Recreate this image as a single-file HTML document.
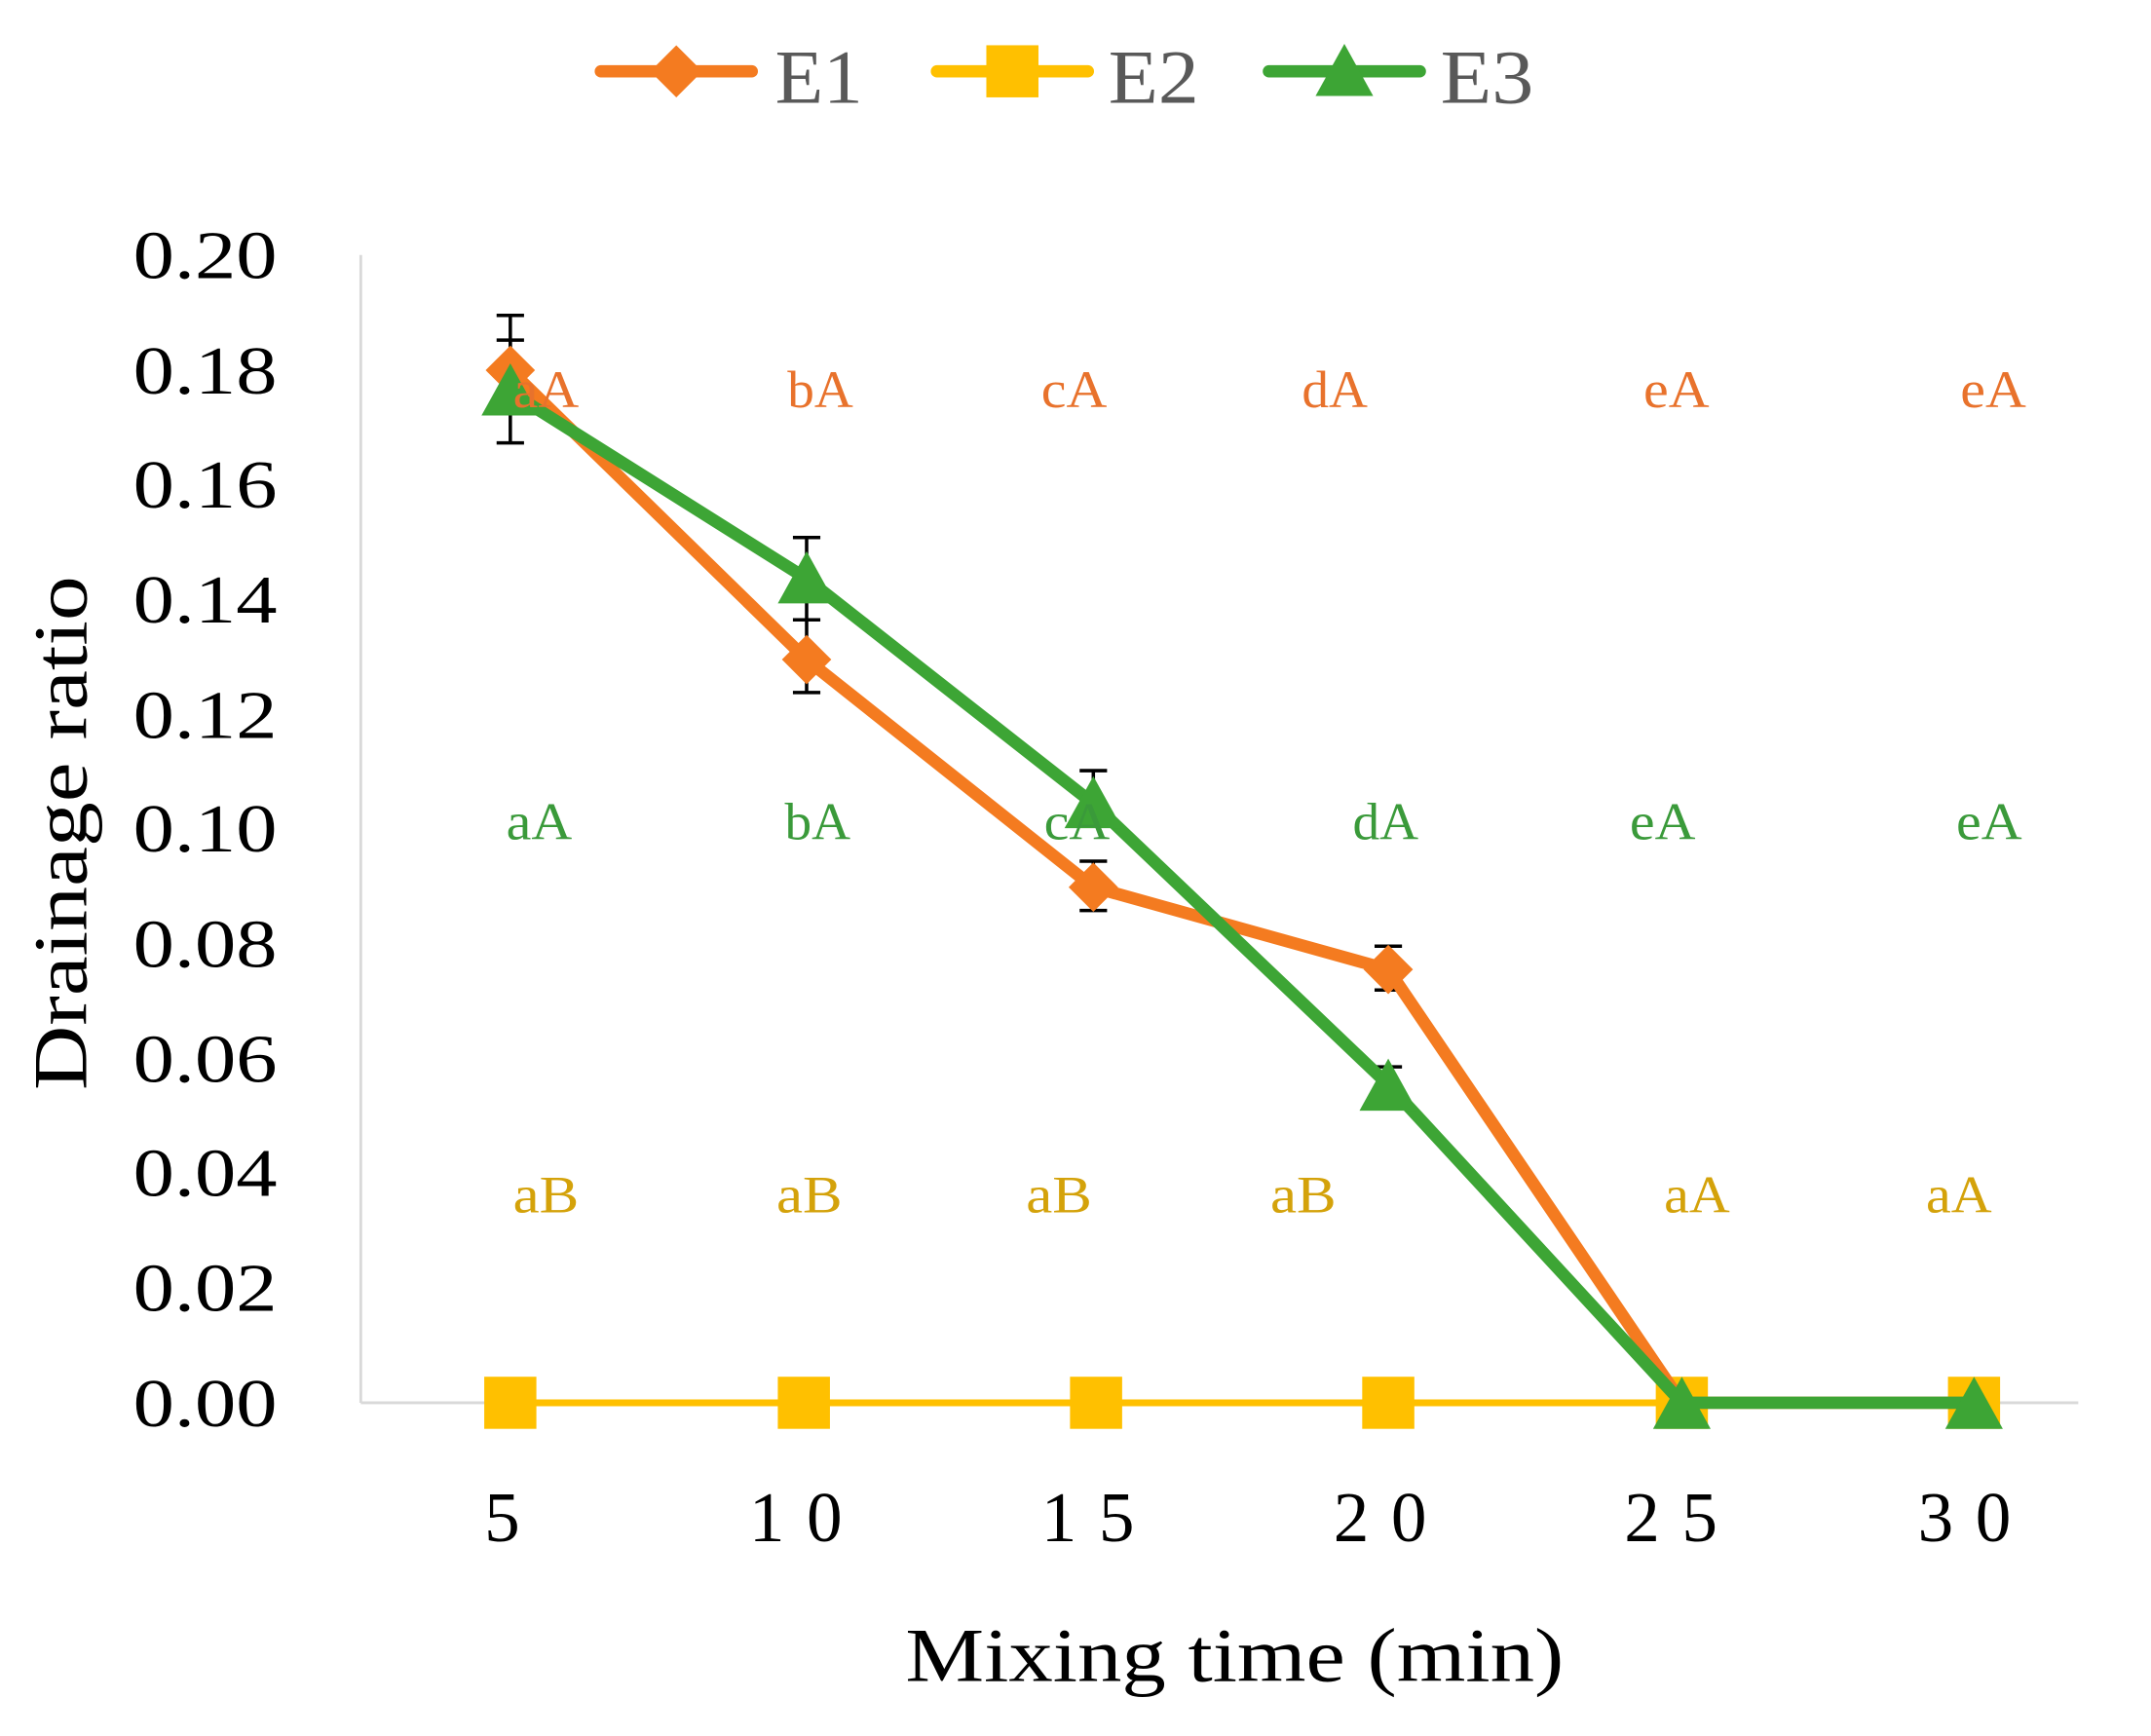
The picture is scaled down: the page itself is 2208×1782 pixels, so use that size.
<!DOCTYPE html>
<html><head><style>html,body{margin:0;padding:0;background:#fff}svg{display:block}</style></head>
<body>
<svg width="2208" height="1782" viewBox="0 0 1568 1266" preserveAspectRatio="none" xmlns="http://www.w3.org/2000/svg" font-family="'Liberation Serif', serif">
<rect width="1568" height="1266" fill="#fff"/>
<!-- legend -->
<line x1="438" y1="52" x2="548" y2="52" stroke="#F47B20" stroke-width="9" stroke-linecap="round"/>
<polygon points="493,33 512,52 493,71 474,52" fill="#F47B20"/>
<text x="565" y="75" font-size="56" fill="#595959" textLength="64" lengthAdjust="spacingAndGlyphs">E1</text>
<line x1="683" y1="52" x2="793" y2="52" stroke="#FFC000" stroke-width="9" stroke-linecap="round"/>
<rect x="719" y="33" width="38" height="38" fill="#FFC000"/>
<text x="808" y="75" font-size="56" fill="#595959" textLength="66" lengthAdjust="spacingAndGlyphs">E2</text>
<line x1="925" y1="52" x2="1035" y2="52" stroke="#3DA535" stroke-width="9" stroke-linecap="round"/>
<polygon points="980,32 1001,70 959,70" fill="#3DA535"/>
<text x="1050" y="75" font-size="56" fill="#595959" textLength="68" lengthAdjust="spacingAndGlyphs">E3</text>
<!-- axes -->
<line x1="263" y1="186" x2="263" y2="1023" stroke="#d9d9d9" stroke-width="2"/>
<line x1="263" y1="1023" x2="1515" y2="1023" stroke="#d9d9d9" stroke-width="2"/>
<g font-size="50" fill="#000">
<text x="97" y="1040" textLength="105" lengthAdjust="spacingAndGlyphs">0.00</text>
<text x="97" y="956" textLength="105" lengthAdjust="spacingAndGlyphs">0.02</text>
<text x="97" y="872" textLength="105" lengthAdjust="spacingAndGlyphs">0.04</text>
<text x="97" y="789" textLength="105" lengthAdjust="spacingAndGlyphs">0.06</text>
<text x="97" y="705" textLength="105" lengthAdjust="spacingAndGlyphs">0.08</text>
<text x="97" y="621" textLength="105" lengthAdjust="spacingAndGlyphs">0.10</text>
<text x="97" y="538" textLength="105" lengthAdjust="spacingAndGlyphs">0.12</text>
<text x="97" y="454" textLength="105" lengthAdjust="spacingAndGlyphs">0.14</text>
<text x="97" y="370" textLength="105" lengthAdjust="spacingAndGlyphs">0.16</text>
<text x="97" y="287" textLength="105" lengthAdjust="spacingAndGlyphs">0.18</text>
<text x="97" y="203" textLength="105" lengthAdjust="spacingAndGlyphs">0.20</text>
</g>
<g font-size="52" fill="#000" text-anchor="middle">
<text x="366" y="1124">5</text>
<text x="580" y="1124" textLength="68" lengthAdjust="spacing">10</text>
<text x="793" y="1124" textLength="68" lengthAdjust="spacing">15</text>
<text x="1006" y="1124" textLength="68" lengthAdjust="spacing">20</text>
<text x="1218" y="1124" textLength="68" lengthAdjust="spacing">25</text>
<text x="1432" y="1124" textLength="68" lengthAdjust="spacing">30</text>
</g>
<text x="660" y="1226" font-size="56" textLength="480" lengthAdjust="spacingAndGlyphs">Mixing time (min)</text>
<text transform="translate(63,795) rotate(-90)" font-size="56" textLength="375" lengthAdjust="spacingAndGlyphs">Drainage ratio</text>
<!-- error bars -->
<g stroke="#000" stroke-width="2.5" fill="none">
<path d="M372 230V323M362 230H382M362 323H382"/>
<path d="M372 248V288M362 248H382"/>
<path d="M588 452V505M578 505H598M578 452H598"/>
<path d="M588 392V452M578 392H598"/>
<path d="M797 628V664M787 628H807M787 664H807"/>
<path d="M797 562V600M787 562H807"/>
<path d="M1012 690V722M1002 690H1022M1002 722H1022"/>
<path d="M1012 778V800M1002 778H1022"/>
</g>
<!-- E2 -->
<polyline points="372,1023 586,1023 799,1023 1012,1023 1226,1023 1439,1023" fill="none" stroke="#FFC000" stroke-width="5"/>
<g fill="#FFC000">
<rect x="353" y="1004" width="38" height="38"/><rect x="567" y="1004" width="38" height="38"/>
<rect x="780" y="1004" width="38" height="38"/><rect x="993" y="1004" width="38" height="38"/>
<rect x="1207" y="1004" width="38" height="38"/><rect x="1420" y="1004" width="38" height="38"/>
</g>
<!-- E1 -->
<polyline points="372,270 588,481 797,647 1012,707 1226,1023 1439,1023" fill="none" stroke="#F47B20" stroke-width="9" stroke-linejoin="round"/>
<g fill="#F47B20">
<polygon points="372,252 390,270 372,288 354,270"/><polygon points="588,463 606,481 588,499 570,481"/>
<polygon points="797,629 815,647 797,665 779,647"/><polygon points="1012,689 1030,707 1012,725 994,707"/>
</g>
<!-- E3 -->
<polyline points="372,286 588,422 797,586 1012,791 1226,1023 1439,1023" fill="none" stroke="#3DA535" stroke-width="9" stroke-linejoin="round"/>
<g fill="#3DA535">
<polygon points="372,265 393,303 351,303"/><polygon points="588,402 609,440 567,440"/>
<polygon points="797,566 818,604 776,604"/><polygon points="1012,772 1033,810 991,810"/>
<polygon points="1226,1004 1247,1042 1205,1042"/><polygon points="1439,1004 1460,1042 1418,1042"/>
</g>
<!-- letters -->
<g font-size="38" fill="#E8722C" text-anchor="middle">
<text x="398" y="297" textLength="48" lengthAdjust="spacingAndGlyphs">aA</text>
<text x="598" y="297" textLength="48" lengthAdjust="spacingAndGlyphs">bA</text>
<text x="783" y="297" textLength="48" lengthAdjust="spacingAndGlyphs">cA</text>
<text x="973" y="297" textLength="48" lengthAdjust="spacingAndGlyphs">dA</text>
<text x="1222" y="297" textLength="48" lengthAdjust="spacingAndGlyphs">eA</text>
<text x="1453" y="297" textLength="48" lengthAdjust="spacingAndGlyphs">eA</text>
</g>
<g font-size="38" fill="#3A9A3A" text-anchor="middle">
<text x="393" y="612" textLength="48" lengthAdjust="spacingAndGlyphs">aA</text>
<text x="596" y="612" textLength="48" lengthAdjust="spacingAndGlyphs">bA</text>
<text x="785" y="612" textLength="48" lengthAdjust="spacingAndGlyphs">cA</text>
<text x="1010" y="612" textLength="48" lengthAdjust="spacingAndGlyphs">dA</text>
<text x="1212" y="612" textLength="48" lengthAdjust="spacingAndGlyphs">eA</text>
<text x="1450" y="612" textLength="48" lengthAdjust="spacingAndGlyphs">eA</text>
</g>
<g font-size="38" fill="#D4A20A" text-anchor="middle">
<text x="398" y="884" textLength="48" lengthAdjust="spacingAndGlyphs">aB</text>
<text x="590" y="884" textLength="48" lengthAdjust="spacingAndGlyphs">aB</text>
<text x="772" y="884" textLength="48" lengthAdjust="spacingAndGlyphs">aB</text>
<text x="950" y="884" textLength="48" lengthAdjust="spacingAndGlyphs">aB</text>
<text x="1237" y="884" textLength="48" lengthAdjust="spacingAndGlyphs">aA</text>
<text x="1428" y="884" textLength="48" lengthAdjust="spacingAndGlyphs">aA</text>
</g>
</svg>
</body></html>
